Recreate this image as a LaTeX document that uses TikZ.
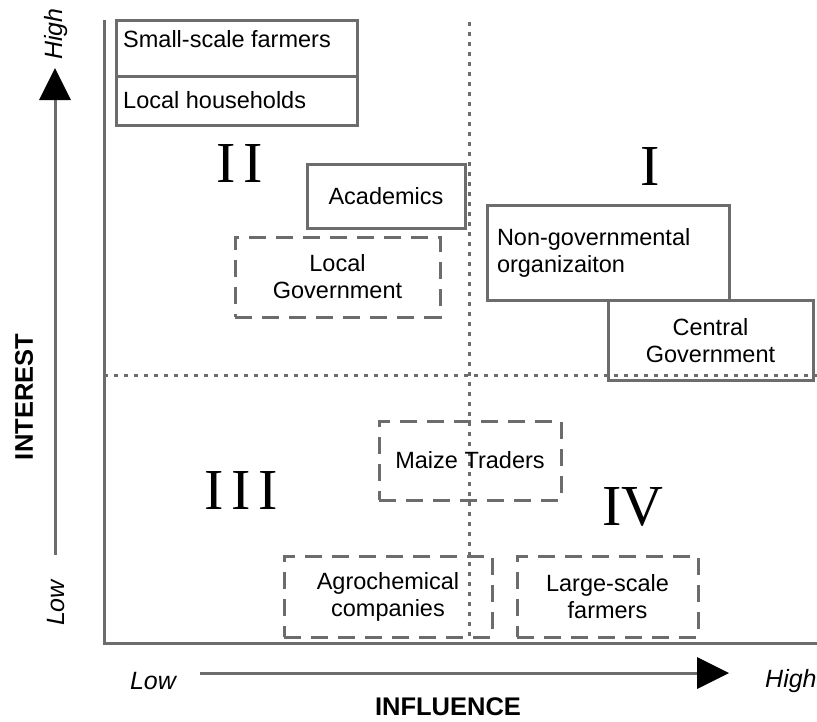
\documentclass[tikz,border=0pt]{standalone}
\usepackage{fontspec}
\setmainfont{Liberation Sans}
\newfontfamily\romanfont{Liberation Serif}
\begin{document}
\begin{tikzpicture}[x=1pt,y=-1pt,
  frame/.style={draw=gray!85!black, line width=3pt},
  divider/.style={draw=gray!85!black, line width=3pt, dash pattern=on 4pt off 6pt},
  solidbox/.style={draw=gray!85!black, line width=3pt, rectangle, inner sep=0pt},
  dashbox/.style={draw=gray!85!black, line width=3pt, rectangle, inner sep=0pt, dash pattern=on 17pt off 10pt},
  txt/.style={font=\fontsize{23.5}{27}\selectfont, inner sep=0pt},
  numeral/.style={font=\romanfont\fontsize{58}{60}\selectfont, inner sep=0pt},
  axislab/.style={font=\fontsize{25}{27}\selectfont\itshape, inner sep=0pt},
  axistitle/.style={font=\fontsize{25.5}{27}\selectfont\bfseries, inner sep=0pt},
  head/.style={fill=black, draw=none}]
\useasboundingbox (0,0) rectangle (817,721);

% quadrant dividers
\coordinate (vtop) at (469,22);
\coordinate (vbot) at (469,643);
\coordinate (hleft) at (104,375);
\coordinate (hright) at (817,375);
\draw[divider] (vtop) -- (vbot);
\draw[divider] (hleft) -- (hright);

% frame
\coordinate (ftop) at (104,20);
\coordinate (forigin) at (104,643);
\coordinate (fright) at (817,643);
\draw[frame] (ftop) -- (forigin) -- (fright);

% vertical axis arrow
\coordinate (yb) at (55,555);
\coordinate (yt) at (55,99);
\draw[frame] (yb) -- (yt);
\fill[head] (55,68) -- (71,100) -- (39,100) -- cycle;
% horizontal axis arrow
\coordinate (xl) at (200,673);
\coordinate (xr) at (698,673);
\draw[frame] (xl) -- (xr);
\fill[head] (729,673) -- (697,657) -- (697,689) -- cycle;

% axis labels
\node[axislab, rotate=90] (yhigh) at (56,34) {High};
\node[axislab, rotate=90] (ylow) at (56,603) {Low};
\node[axistitle, rotate=90] (ytitle) at (24,397) {INTEREST};
\node[axislab] (xlow) at (153,681) {Low};
\node[axislab, anchor=west] (xhigh) at (765,681) {High};
\node[axistitle] (xtitle) at (448,707) {INFLUENCE};

% quadrant numerals
\node[numeral] (qI) at (650,167) {I};
\node[numeral] (qII) at (240,164) {I\kern8pt I};
\node[numeral] (qIII) at (241,491) {I\kern8pt I\kern8pt I};
\node[numeral] (qIV) at (633,507) {I\kern-1pt V};

% stakeholder boxes
\node[solidbox, minimum width=241, minimum height=56] (ssf) at (236.5,48) {};
\node[txt, anchor=base west] (ssft) at (123,47) {Small-scale farmers};
\node[solidbox, minimum width=241, minimum height=49] (lhh) at (236.5,100.5) {};
\node[txt, anchor=base west] (lhht) at (123,108) {Local households};

\node[solidbox, txt, minimum width=158, minimum height=64] (acad) at (386,196.5) {Academics};
\node[dashbox, txt, minimum width=205, minimum height=80, align=center] (lgov) at (337.5,277) {Local\\Government};

\node[solidbox, txt, minimum width=242, minimum height=95, text width=222, inner xsep=10pt, align=left] (ngo) at (608,252.5) {Non-governmental\\organizaiton};
\node[solidbox, txt, minimum width=205, minimum height=80, align=center] (cgov) at (710.5,340.5) {Central\\Government};

\node[dashbox, txt, minimum width=182, minimum height=79] (maize) at (470,460.5) {Maize Traders};
\node[dashbox, txt, minimum width=208, minimum height=81, align=center] (agro) at (388,596.5) {Agrochemical\\companies};
\node[dashbox, txt, minimum width=181, minimum height=81, align=center] (lsf) at (607.5,596.5) {Large-scale\\farmers};
\end{tikzpicture}
\end{document}
